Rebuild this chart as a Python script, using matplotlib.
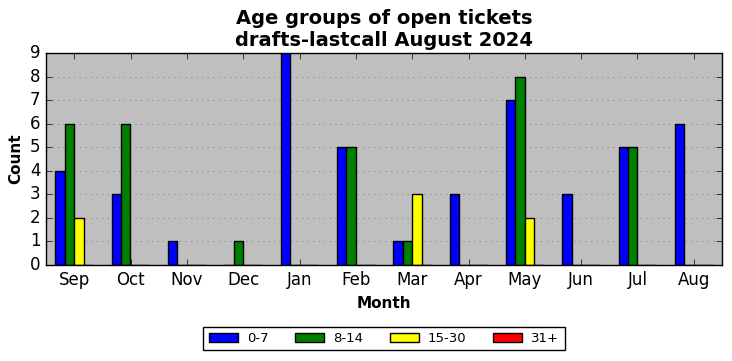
import numpy as np
import matplotlib
matplotlib.use("Agg")
import matplotlib.pyplot as plt

plt.style.use("classic")

months = ["Sep", "Oct", "Nov", "Dec", "Jan", "Feb", "Mar", "Apr", "May", "Jun", "Jul", "Aug"]
age_0_7 = [4, 3, 1, 0, 9, 5, 1, 3, 7, 3, 5, 6]
age_8_14 = [6, 6, 0, 1, 0, 5, 1, 0, 8, 0, 5, 0]
age_15_30 = [2, 0, 0, 0, 0, 0, 3, 0, 2, 0, 0, 0]
age_31_plus = [0, 0, 0, 0, 0, 0, 0, 0, 0, 0, 0, 0]

series = [("0-7", age_0_7, "blue"), ("8-14", age_8_14, "green"),
          ("15-30", age_15_30, "yellow"), ("31+", age_31_plus, "red")]

fig = plt.figure(figsize=(7.32, 3.61), dpi=100, facecolor="white")
ax = fig.add_axes([46 / 732, 1 - 265 / 361, 676 / 732, 212 / 361])
ax.set_facecolor("0.75")

x = np.arange(len(months))
w = 0.167
for i, (name, vals, col) in enumerate(series):
    ax.bar(x + (i - 1.5) * w, vals, w, color=col, edgecolor="black",
           linewidth=1, label=name, align="center")

ax.set_xlim(-0.5, 11.5)
ax.set_ylim(0, 9)
ax.set_yticks(range(10))
ax.set_xticks(x)
ax.set_xticklabels(months)
ax.tick_params(labelsize=12)
ax.yaxis.grid(True, linestyle=":", color="0.5")
ax.set_axisbelow(True)
ax.set_xlabel("Month", fontsize=11, fontweight="bold")
ax.set_ylabel("Count", fontsize=11, fontweight="bold")
ax.set_title("Age groups of open tickets\ndrafts-lastcall August 2024",
             fontsize=14, fontweight="bold")

leg = ax.legend(loc="upper center", bbox_to_anchor=(0.5, -0.26), ncol=4,
                fontsize=9.5, fancybox=False, handlelength=2.2,
                handletextpad=0.7, columnspacing=2.0)
leg.get_frame().set_edgecolor("black")

fig.savefig("out.png", dpi=100, facecolor="white")
